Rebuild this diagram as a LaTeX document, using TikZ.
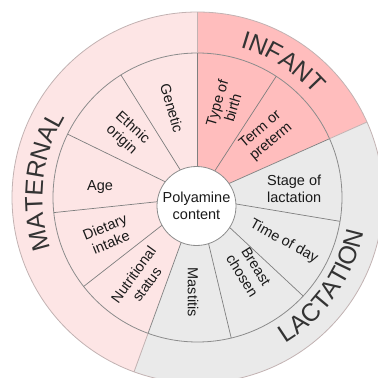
\documentclass[tikz,border=0pt]{standalone}
\usepackage{fontspec}
\setmainfont{Liberation Sans}
\usetikzlibrary{decorations.text}
\definecolor{matband}{HTML}{FDE5E5}
\definecolor{infband}{HTML}{FFBDBD}
\definecolor{lacband}{HTML}{EAEAEA}
\definecolor{seglinec}{HTML}{7F7F7F}
\definecolor{ringlinec}{HTML}{8C8C8C}
\definecolor{outlinec}{HTML}{C2B2B2}
\definecolor{txt}{HTML}{1A1A1A}
\definecolor{bigtxt}{HTML}{333333}
\begin{document}
\begin{tikzpicture}[x=1pt,y=1pt,
  seglabel/.style={font=\fontsize{14.5}{16.5}\selectfont, align=center, text=txt, inner sep=0pt},
  segline/.style={draw=seglinec, line width=0.7pt},
  ringline/.style={draw=ringlinec, line width=0.8pt},
  outerline/.style={draw=outlinec, line width=0.8pt},
  arctext/.style={decorate, decoration={text along path, text align=center, text color=bigtxt,
     text={|\fontsize{25}{25}\selectfont|#1}}}
]
\useasboundingbox (-197.5,-180.5) rectangle (180.5,197.5);
\clip (-197.5,-180.5) rectangle (180.5,197.5);

% sector fills
\fill[matband] (0,0) -- (90:185.5) arc[start angle=90, end angle=250, radius=185.5] -- cycle;
\fill[infband] (0,0) -- (24:185.5) arc[start angle=24, end angle=90, radius=185.5] -- cycle;
\fill[lacband] (0,0) -- (-110:185.5) arc[start angle=-110, end angle=24, radius=185.5] -- cycle;

% rings
\draw[outerline] (0,0) circle[radius=185.5];
\draw[ringline] (0,0) circle[radius=144.5];

% sector boundaries in the outer band
\foreach \a in {90,24,-110}
  \draw[outerline] (\a:144.5) -- (\a:185.5);

% segment boundaries
\foreach \a in {90,122,154,186,218,250,57,24,-9.5,-43,-76.5}
  \draw[segline] (\a:20) -- (\a:144.5);

% centre
\node[circle, fill=white, draw=ringlinec, line width=0.8pt, minimum size=79pt, inner sep=0pt,
      font=\fontsize{14.5}{17}\selectfont, align=center, text=txt] (core) at (-1,-8.5) {Polyamine\\content};

% segment labels
\node[seglabel, rotate=-74] (genetic) at (106:93) {Genetic};
\node[seglabel, rotate=-42] (ethnic) at (138:95) {Ethnic\\origin};
\node[seglabel] (age) at (174:98) {Age};
\node[seglabel, rotate=22] (diet) at (202.5:97) {Dietary\\intake};
\node[seglabel, rotate=54] (nutri) at (235:100) {Nutritional\\status};
\node[seglabel, rotate=73.5] (birth) at (73.5:96) {Type of\\birth};
\node[seglabel, rotate=40] (term) at (42:92) {Term or\\preterm};
\node[seglabel] (stage) at (5:97) {Stage of\\lactation};
\node[seglabel, rotate=-29] (time) at (-27:97) {Time of day};
\node[seglabel, rotate=-58] (breast) at (-55:90) {Breast\\chosen};
\node[seglabel, rotate=-90] (mastitis) at (-92.7:95) {Mastitis};

% ring titles
\path[arctext=MATERNAL] (234:155) arc[start angle=234, end angle=114, radius=155];
\path[arctext=INFANT] (97.6:156) arc[start angle=97.6, end angle=17.6, radius=156];
\path[arctext=LACTATION] (-95.2:170) arc[start angle=-95.2, end angle=24.8, radius=170];
\end{tikzpicture}
\end{document}
